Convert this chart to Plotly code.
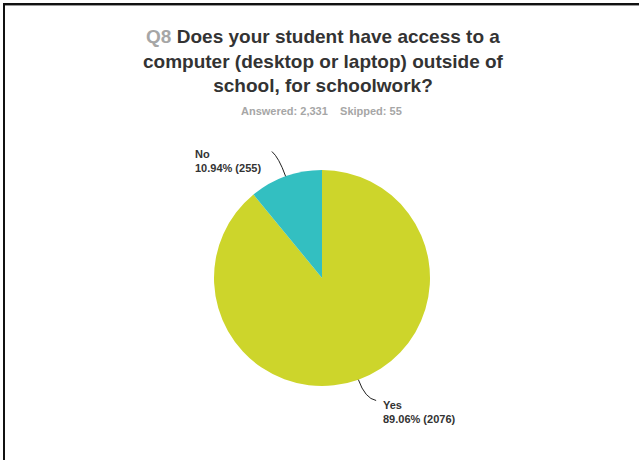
import math
import plotly.graph_objects as go

# ---- data ----
labels = ["Yes", "No"]
values = [2076, 255]
percents = [89.06, 10.94]
colors = ["#cdd52b", "#33bfc1"]
question_no = "Q8"
title_text = "Does your student have access to a<br>computer (desktop or laptop) outside of<br>school, for schoolwork?"
answered = "2,331"
skipped = "55"

W, H = 639, 460
cx, cy, R = 322, 278, 108  # pie centre / radius in pixels (layout)

fig = go.Figure()
fig.add_trace(go.Pie(
    labels=labels, values=values, sort=False, direction="clockwise", rotation=0,
    marker=dict(colors=colors, line=dict(width=0)),
    textinfo="none", hoverinfo="label+percent+value", showlegend=False,
    domain=dict(x=[(cx - R) / W, (cx + R) / W], y=[(H - cy - R) / H, (H - cy + R) / H]),
))

def px(x):
    return x / W

def py(y):
    return 1 - y / H

total = sum(values)
cum = 0
shapes = []
annotations = []
for lab, v, pct in zip(labels, values, percents):
    mid = (cum + v / 2) / total * 2 * math.pi
    cum += v
    s, c = math.sin(mid), math.cos(mid)
    ex, ey = cx + R * s, cy - R * c
    mx, my = cx + (R + 20) * s, cy - (R + 20) * c
    if s < 0:
        tx, ty = mx - 7, my - 6
        lx, ly = 193, 146
    else:
        tx, ty = mx + 11, my + 2
        lx, ly = 381, 397
    shapes.append(dict(
        type="path", xref="paper", yref="paper",
        path=f"M {px(ex)},{py(ey)} Q {px(mx)},{py(my)} {px(tx)},{py(ty)}",
        line=dict(color="#222", width=1),
    ))
    annotations.append(dict(
        x=px(lx), y=py(ly), xref="paper", yref="paper", xanchor="left", yanchor="top",
        showarrow=False, align="left",
        text=f"<b>{lab}<br>{pct:.2f}% ({v})</b>",
        font=dict(family="Liberation Sans, Arial", size=11, color="#333"),
    ))

annotations.append(dict(
    x=px(323), y=py(61), xref="paper", yref="paper", xanchor="center", yanchor="middle",
    showarrow=False, align="center",
    text=f"<b><span style='color:#a6a6a6'>{question_no}</span> {title_text}</b>",
    font=dict(family="Liberation Sans, Arial", size=19, color="#333"),
))
annotations.append(dict(
    x=px(322), y=py(111), xref="paper", yref="paper", xanchor="center", yanchor="middle",
    showarrow=False,
    text=f"<b>Answered: {answered}&nbsp;&nbsp;&nbsp;&nbsp;Skipped: {skipped}</b>",
    font=dict(family="Liberation Sans, Arial", size=11, color="#a6a6a6"),
))

# frame lines (top and left)
shapes.append(dict(type="line", xref="paper", yref="paper", x0=px(3), x1=1, y0=py(5.5), y1=py(5.5),
                   line=dict(color="#999", width=1)))
shapes.append(dict(type="line", xref="paper", yref="paper", x0=px(3), x1=1, y0=py(4), y1=py(4),
                   line=dict(color="#111", width=2)))
shapes.append(dict(type="line", xref="paper", yref="paper", x0=px(4), x1=px(4), y0=py(3), y1=0,
                   line=dict(color="#111", width=2)))

fig.update_layout(
    width=W, height=H, margin=dict(l=0, r=0, t=0, b=0),
    paper_bgcolor="white", plot_bgcolor="white",
    shapes=shapes, annotations=annotations,
)
fig.write_html(
    "out.html",
    config={"displayModeBar": False},
    post_script="document.body.style.margin='0';document.body.style.overflow='hidden';",
)
